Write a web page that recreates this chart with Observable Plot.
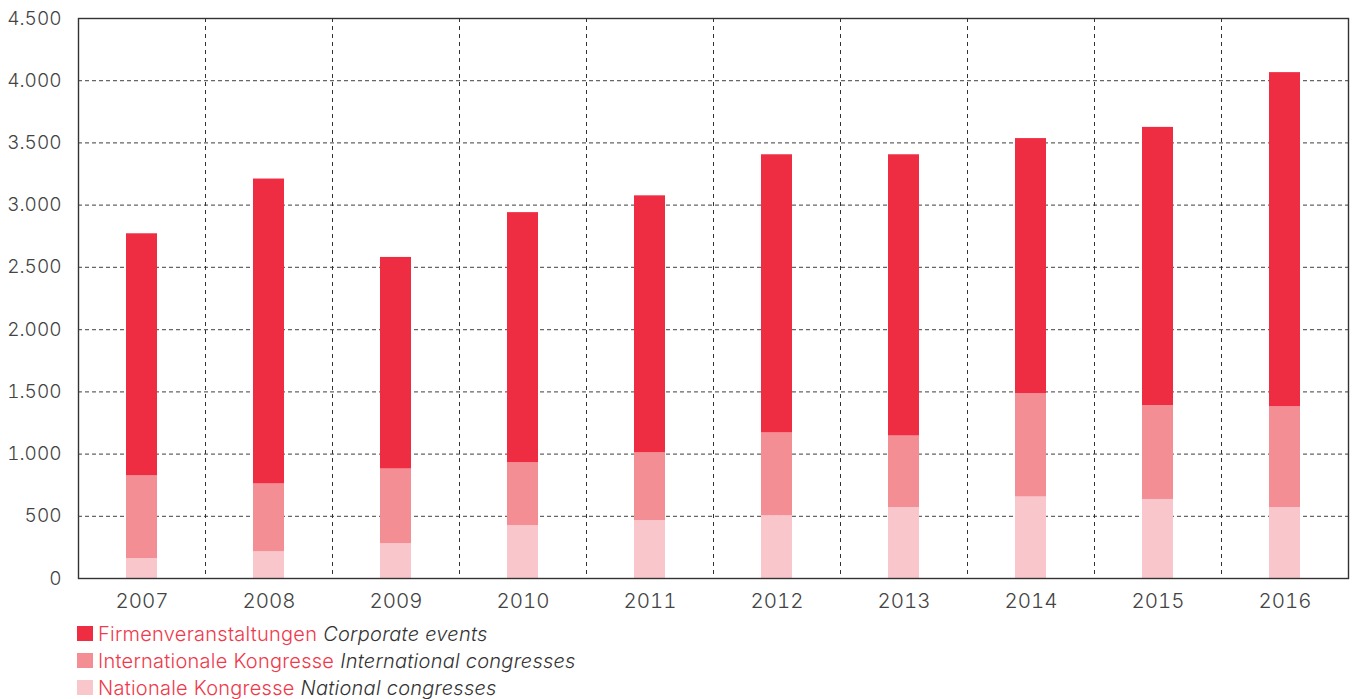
<!DOCTYPE html>
<html><head><meta charset="utf-8">
<script src="https://cdn.jsdelivr.net/npm/d3@7"></script>
<script src="https://cdn.jsdelivr.net/npm/@observablehq/plot@0.6"></script>
<style>
body{margin:0;background:#fff;font-family:Inter, "Noto Sans", sans-serif;}
#legend{margin-left:77px;font-size:20px;font-weight:300;letter-spacing:0.25px;}
.item{display:flex;align-items:center;height:27px;white-space:nowrap;}
.sw{width:16px;height:15px;margin-right:5px;flex:none;}
.de{color:#ef3a4c;}
.en{color:#333;font-style:italic;margin-left:6px;}
</style></head><body>
<div id="chart"></div><div id="legend"></div>
<script>
const years = [2007, 2008, 2009, 2010, 2011, 2012, 2013, 2014, 2015, 2016];
const national      = [160, 215, 280, 425, 465, 505, 570, 655, 635, 570];
const international = [665, 545, 600, 505, 545, 665, 575, 830, 755, 810];
const corporate     = [1945, 2450, 1700, 2010, 2065, 2235, 2260, 2050, 2235, 2685];
const seriesDE = ["Nationale Kongresse", "Internationale Kongresse", "Firmenveranstaltungen"];
const seriesEN = ["National congresses", "International congresses", "Corporate events"];
const seriesColors = ["#f9c7cb", "#f48e95", "#ee2c42"];
const yTicks = [0, 500, 1000, 1500, 2000, 2500, 3000, 3500, 4000, 4500];

const valuesBySeries = [national, international, corporate];
const data = [];
seriesDE.forEach((s, i) => years.forEach((y, j) => data.push({year: y, series: s, value: valuesBySeries[i][j]})));

const fmt = d3.formatLocale({decimal: ",", thousands: ".", grouping: [3], currency: ["", "€"]}).format(",");

const chart = Plot.plot({
  width: 1352,
  height: 620,
  marginLeft: 78,
  marginRight: 4,
  marginTop: 18,
  marginBottom: 42,
  style: {fontFamily: "Inter, 'Noto Sans', sans-serif", fontSize: "19px", color: "#444", fontWeight: 300, background: "#fff"},
  x: {type: "linear", domain: [years[0] - 0.5, years[years.length - 1] + 0.5], axis: null},
  y: {domain: [0, 4500], axis: null},
  color: {domain: seriesDE, range: seriesColors},
  marks: [
    Plot.ruleY(yTicks.filter(v => v > 0 && v < 4500), {stroke: "#666", strokeWidth: 1.3, strokeDasharray: "4,3"}),
    Plot.ruleX(years.slice(1).map(y => y - 0.5), {stroke: "#333", strokeWidth: 1, strokeDasharray: "4,4"}),
    Plot.rectY(data, Plot.stackY({
      x1: d => d.year - 0.5, x2: d => d.year + 0.5,
      y: "value", fill: "series", insetLeft: 48, insetRight: 48
    })),
    Plot.axisY({ticks: yTicks, tickSize: 0, tickPadding: 17, tickFormat: fmt, fontSize: 19, label: null}),
    Plot.axisX({ticks: years, tickSize: 0, tickPadding: 15, tickFormat: d => String(d), fontSize: 20.5, label: null}),
    Plot.frame({stroke: "#333", strokeWidth: 1.4})
  ]
});
document.getElementById("chart").appendChild(chart);

const legend = document.getElementById("legend");
[2, 1, 0].forEach(i => {
  const item = document.createElement("div");
  item.className = "item";
  item.innerHTML = `<span class="sw" style="background:${seriesColors[i]}"></span><span class="de">${seriesDE[i]}</span><span class="en">${seriesEN[i]}</span>`;
  legend.appendChild(item);
});
</script>
</body></html>
